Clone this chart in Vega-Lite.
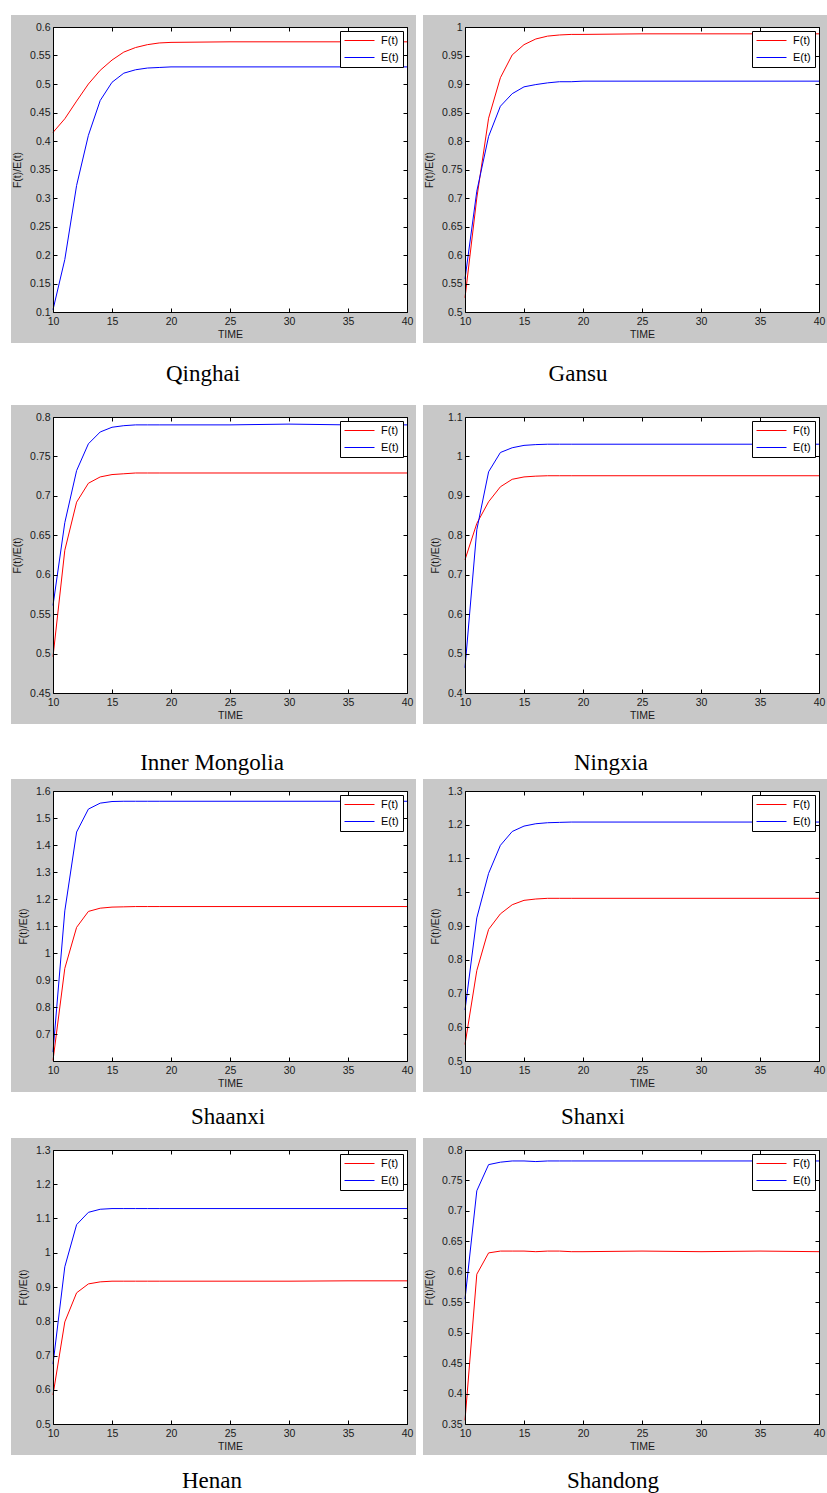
{
"$schema": "https://vega.github.io/schema/vega-lite/v6.json",
"background": "white",
"padding": {"left": 11, "top": 14, "right": 0, "bottom": 0},
"spacing": 18,
"config": {
 "view": {"stroke": null},
 "axis": {"grid": false, "zindex": 1, "domainColor": "#000", "domainWidth": 1, "tickColor": "#000", "tickSize": -4, "tickWidth": 1, "labelFont": "Liberation Sans", "labelFontSize": 10.5, "labelColor": "#1a1a1a", "labelOverlap": false, "titleFont": "Liberation Sans", "titleFontWeight": "normal", "titleColor": "#1a1a1a"},
 "axisX": {"labelPadding": 8, "titleFontSize": 10.5, "titlePadding": 3, "labelFlush": false},
 "axisY": {"labelPadding": 7, "titleFontSize": 10.5, "titlePadding": 7},
 "legend": {"orient": "top-right", "offset": 4, "fillColor": "white", "strokeColor": "#000", "strokeWidth": 1, "padding": 4, "symbolType": "M-3,0L3,0", "symbolSize": 100, "symbolOffset": 10, "symbolStrokeWidth": 1.5, "labelFont": "Liberation Sans", "labelFontSize": 11, "labelColor": "#000", "rowPadding": 5, "labelOffset": 16, "zindex": 2},
 "title": {"font": "Liberation Serif", "fontSize": 23, "fontWeight": "normal", "color": "#000", "orient": "bottom", "anchor": "middle", "baseline": "alphabetic"},
 "line": {"strokeWidth": 1}
},
"resolve": {"scale": {"color": "independent"}, "legend": {"color": "independent"}},
"datasets": {"curves": [
{"panel":"Qinghai","series":"F(t)","t":10,"v":0.415},{"panel":"Qinghai","series":"F(t)","t":11,"v":0.439},{"panel":"Qinghai","series":"F(t)","t":12,"v":0.470},{"panel":"Qinghai","series":"F(t)","t":13,"v":0.500},{"panel":"Qinghai","series":"F(t)","t":14,"v":0.524},{"panel":"Qinghai","series":"F(t)","t":15,"v":0.542},{"panel":"Qinghai","series":"F(t)","t":16,"v":0.556},{"panel":"Qinghai","series":"F(t)","t":17,"v":0.564},{"panel":"Qinghai","series":"F(t)","t":18,"v":0.569},{"panel":"Qinghai","series":"F(t)","t":19,"v":0.572},{"panel":"Qinghai","series":"F(t)","t":20,"v":0.573},{"panel":"Qinghai","series":"F(t)","t":25,"v":0.574},{"panel":"Qinghai","series":"F(t)","t":30,"v":0.574},{"panel":"Qinghai","series":"F(t)","t":35,"v":0.574},{"panel":"Qinghai","series":"F(t)","t":40,"v":0.574},
{"panel":"Qinghai","series":"E(t)","t":10,"v":0.104},{"panel":"Qinghai","series":"E(t)","t":11,"v":0.192},{"panel":"Qinghai","series":"E(t)","t":12,"v":0.322},{"panel":"Qinghai","series":"E(t)","t":13,"v":0.410},{"panel":"Qinghai","series":"E(t)","t":14,"v":0.471},{"panel":"Qinghai","series":"E(t)","t":15,"v":0.503},{"panel":"Qinghai","series":"E(t)","t":16,"v":0.519},{"panel":"Qinghai","series":"E(t)","t":17,"v":0.525},{"panel":"Qinghai","series":"E(t)","t":18,"v":0.528},{"panel":"Qinghai","series":"E(t)","t":19,"v":0.529},{"panel":"Qinghai","series":"E(t)","t":20,"v":0.530},{"panel":"Qinghai","series":"E(t)","t":25,"v":0.530},{"panel":"Qinghai","series":"E(t)","t":30,"v":0.530},{"panel":"Qinghai","series":"E(t)","t":35,"v":0.530},{"panel":"Qinghai","series":"E(t)","t":40,"v":0.530},
{"panel":"Gansu","series":"F(t)","t":10,"v":0.525},{"panel":"Gansu","series":"F(t)","t":11,"v":0.700},{"panel":"Gansu","series":"F(t)","t":12,"v":0.840},{"panel":"Gansu","series":"F(t)","t":13,"v":0.911},{"panel":"Gansu","series":"F(t)","t":14,"v":0.951},{"panel":"Gansu","series":"F(t)","t":15,"v":0.969},{"panel":"Gansu","series":"F(t)","t":16,"v":0.979},{"panel":"Gansu","series":"F(t)","t":17,"v":0.984},{"panel":"Gansu","series":"F(t)","t":18,"v":0.986},{"panel":"Gansu","series":"F(t)","t":19,"v":0.987},{"panel":"Gansu","series":"F(t)","t":20,"v":0.987},{"panel":"Gansu","series":"F(t)","t":25,"v":0.988},{"panel":"Gansu","series":"F(t)","t":30,"v":0.988},{"panel":"Gansu","series":"F(t)","t":35,"v":0.988},{"panel":"Gansu","series":"F(t)","t":40,"v":0.988},
{"panel":"Gansu","series":"E(t)","t":10,"v":0.558},{"panel":"Gansu","series":"E(t)","t":11,"v":0.712},{"panel":"Gansu","series":"E(t)","t":12,"v":0.808},{"panel":"Gansu","series":"E(t)","t":13,"v":0.861},{"panel":"Gansu","series":"E(t)","t":14,"v":0.883},{"panel":"Gansu","series":"E(t)","t":15,"v":0.895},{"panel":"Gansu","series":"E(t)","t":16,"v":0.899},{"panel":"Gansu","series":"E(t)","t":17,"v":0.902},{"panel":"Gansu","series":"E(t)","t":18,"v":0.904},{"panel":"Gansu","series":"E(t)","t":19,"v":0.904},{"panel":"Gansu","series":"E(t)","t":20,"v":0.905},{"panel":"Gansu","series":"E(t)","t":25,"v":0.905},{"panel":"Gansu","series":"E(t)","t":30,"v":0.905},{"panel":"Gansu","series":"E(t)","t":35,"v":0.905},{"panel":"Gansu","series":"E(t)","t":40,"v":0.905},
{"panel":"Inner Mongolia","series":"F(t)","t":10,"v":0.496},{"panel":"Inner Mongolia","series":"F(t)","t":11,"v":0.631},{"panel":"Inner Mongolia","series":"F(t)","t":12,"v":0.692},{"panel":"Inner Mongolia","series":"F(t)","t":13,"v":0.716},{"panel":"Inner Mongolia","series":"F(t)","t":14,"v":0.724},{"panel":"Inner Mongolia","series":"F(t)","t":15,"v":0.727},{"panel":"Inner Mongolia","series":"F(t)","t":16,"v":0.728},{"panel":"Inner Mongolia","series":"F(t)","t":17,"v":0.729},{"panel":"Inner Mongolia","series":"F(t)","t":18,"v":0.729},{"panel":"Inner Mongolia","series":"F(t)","t":19,"v":0.729},{"panel":"Inner Mongolia","series":"F(t)","t":20,"v":0.729},{"panel":"Inner Mongolia","series":"F(t)","t":25,"v":0.729},{"panel":"Inner Mongolia","series":"F(t)","t":30,"v":0.729},{"panel":"Inner Mongolia","series":"F(t)","t":35,"v":0.729},{"panel":"Inner Mongolia","series":"F(t)","t":40,"v":0.729},
{"panel":"Inner Mongolia","series":"E(t)","t":10,"v":0.561},{"panel":"Inner Mongolia","series":"E(t)","t":11,"v":0.666},{"panel":"Inner Mongolia","series":"E(t)","t":12,"v":0.732},{"panel":"Inner Mongolia","series":"E(t)","t":13,"v":0.766},{"panel":"Inner Mongolia","series":"E(t)","t":14,"v":0.781},{"panel":"Inner Mongolia","series":"E(t)","t":15,"v":0.787},{"panel":"Inner Mongolia","series":"E(t)","t":16,"v":0.789},{"panel":"Inner Mongolia","series":"E(t)","t":17,"v":0.790},{"panel":"Inner Mongolia","series":"E(t)","t":18,"v":0.790},{"panel":"Inner Mongolia","series":"E(t)","t":19,"v":0.790},{"panel":"Inner Mongolia","series":"E(t)","t":20,"v":0.790},{"panel":"Inner Mongolia","series":"E(t)","t":25,"v":0.790},{"panel":"Inner Mongolia","series":"E(t)","t":30,"v":0.791},{"panel":"Inner Mongolia","series":"E(t)","t":35,"v":0.790},{"panel":"Inner Mongolia","series":"E(t)","t":40,"v":0.790},
{"panel":"Ningxia","series":"F(t)","t":10,"v":0.738},{"panel":"Ningxia","series":"F(t)","t":11,"v":0.830},{"panel":"Ningxia","series":"F(t)","t":12,"v":0.885},{"panel":"Ningxia","series":"F(t)","t":13,"v":0.923},{"panel":"Ningxia","series":"F(t)","t":14,"v":0.942},{"panel":"Ningxia","series":"F(t)","t":15,"v":0.948},{"panel":"Ningxia","series":"F(t)","t":16,"v":0.950},{"panel":"Ningxia","series":"F(t)","t":17,"v":0.951},{"panel":"Ningxia","series":"F(t)","t":18,"v":0.951},{"panel":"Ningxia","series":"F(t)","t":19,"v":0.951},{"panel":"Ningxia","series":"F(t)","t":20,"v":0.951},{"panel":"Ningxia","series":"F(t)","t":25,"v":0.951},{"panel":"Ningxia","series":"F(t)","t":30,"v":0.951},{"panel":"Ningxia","series":"F(t)","t":35,"v":0.951},{"panel":"Ningxia","series":"F(t)","t":40,"v":0.951},
{"panel":"Ningxia","series":"E(t)","t":10,"v":0.464},{"panel":"Ningxia","series":"E(t)","t":11,"v":0.814},{"panel":"Ningxia","series":"E(t)","t":12,"v":0.961},{"panel":"Ningxia","series":"E(t)","t":13,"v":1.010},{"panel":"Ningxia","series":"E(t)","t":14,"v":1.022},{"panel":"Ningxia","series":"E(t)","t":15,"v":1.028},{"panel":"Ningxia","series":"E(t)","t":16,"v":1.030},{"panel":"Ningxia","series":"E(t)","t":17,"v":1.031},{"panel":"Ningxia","series":"E(t)","t":18,"v":1.031},{"panel":"Ningxia","series":"E(t)","t":19,"v":1.031},{"panel":"Ningxia","series":"E(t)","t":20,"v":1.031},{"panel":"Ningxia","series":"E(t)","t":25,"v":1.031},{"panel":"Ningxia","series":"E(t)","t":30,"v":1.031},{"panel":"Ningxia","series":"E(t)","t":35,"v":1.031},{"panel":"Ningxia","series":"E(t)","t":40,"v":1.031},
{"panel":"Shaanxi","series":"F(t)","t":10,"v":0.602},{"panel":"Shaanxi","series":"F(t)","t":11,"v":0.943},{"panel":"Shaanxi","series":"F(t)","t":12,"v":1.095},{"panel":"Shaanxi","series":"F(t)","t":13,"v":1.154},{"panel":"Shaanxi","series":"F(t)","t":14,"v":1.166},{"panel":"Shaanxi","series":"F(t)","t":15,"v":1.170},{"panel":"Shaanxi","series":"F(t)","t":16,"v":1.171},{"panel":"Shaanxi","series":"F(t)","t":17,"v":1.172},{"panel":"Shaanxi","series":"F(t)","t":18,"v":1.172},{"panel":"Shaanxi","series":"F(t)","t":19,"v":1.172},{"panel":"Shaanxi","series":"F(t)","t":20,"v":1.172},{"panel":"Shaanxi","series":"F(t)","t":25,"v":1.172},{"panel":"Shaanxi","series":"F(t)","t":30,"v":1.172},{"panel":"Shaanxi","series":"F(t)","t":35,"v":1.172},{"panel":"Shaanxi","series":"F(t)","t":40,"v":1.172},
{"panel":"Shaanxi","series":"E(t)","t":10,"v":0.633},{"panel":"Shaanxi","series":"E(t)","t":11,"v":1.156},{"panel":"Shaanxi","series":"E(t)","t":12,"v":1.448},{"panel":"Shaanxi","series":"E(t)","t":13,"v":1.533},{"panel":"Shaanxi","series":"E(t)","t":14,"v":1.555},{"panel":"Shaanxi","series":"E(t)","t":15,"v":1.561},{"panel":"Shaanxi","series":"E(t)","t":16,"v":1.562},{"panel":"Shaanxi","series":"E(t)","t":17,"v":1.562},{"panel":"Shaanxi","series":"E(t)","t":18,"v":1.562},{"panel":"Shaanxi","series":"E(t)","t":19,"v":1.562},{"panel":"Shaanxi","series":"E(t)","t":20,"v":1.562},{"panel":"Shaanxi","series":"E(t)","t":25,"v":1.562},{"panel":"Shaanxi","series":"E(t)","t":30,"v":1.562},{"panel":"Shaanxi","series":"E(t)","t":35,"v":1.562},{"panel":"Shaanxi","series":"E(t)","t":40,"v":1.562},
{"panel":"Shanxi","series":"F(t)","t":10,"v":0.549},{"panel":"Shanxi","series":"F(t)","t":11,"v":0.768},{"panel":"Shanxi","series":"F(t)","t":12,"v":0.890},{"panel":"Shanxi","series":"F(t)","t":13,"v":0.936},{"panel":"Shanxi","series":"F(t)","t":14,"v":0.963},{"panel":"Shanxi","series":"F(t)","t":15,"v":0.976},{"panel":"Shanxi","series":"F(t)","t":16,"v":0.980},{"panel":"Shanxi","series":"F(t)","t":17,"v":0.982},{"panel":"Shanxi","series":"F(t)","t":18,"v":0.982},{"panel":"Shanxi","series":"F(t)","t":19,"v":0.982},{"panel":"Shanxi","series":"F(t)","t":20,"v":0.982},{"panel":"Shanxi","series":"F(t)","t":25,"v":0.982},{"panel":"Shanxi","series":"F(t)","t":30,"v":0.982},{"panel":"Shanxi","series":"F(t)","t":35,"v":0.982},{"panel":"Shanxi","series":"F(t)","t":40,"v":0.982},
{"panel":"Shanxi","series":"E(t)","t":10,"v":0.651},{"panel":"Shanxi","series":"E(t)","t":11,"v":0.924},{"panel":"Shanxi","series":"E(t)","t":12,"v":1.056},{"panel":"Shanxi","series":"E(t)","t":13,"v":1.139},{"panel":"Shanxi","series":"E(t)","t":14,"v":1.180},{"panel":"Shanxi","series":"E(t)","t":15,"v":1.196},{"panel":"Shanxi","series":"E(t)","t":16,"v":1.203},{"panel":"Shanxi","series":"E(t)","t":17,"v":1.206},{"panel":"Shanxi","series":"E(t)","t":18,"v":1.207},{"panel":"Shanxi","series":"E(t)","t":19,"v":1.208},{"panel":"Shanxi","series":"E(t)","t":20,"v":1.208},{"panel":"Shanxi","series":"E(t)","t":25,"v":1.208},{"panel":"Shanxi","series":"E(t)","t":30,"v":1.208},{"panel":"Shanxi","series":"E(t)","t":35,"v":1.208},{"panel":"Shanxi","series":"E(t)","t":40,"v":1.208},
{"panel":"Henan","series":"F(t)","t":10,"v":0.585},{"panel":"Henan","series":"F(t)","t":11,"v":0.798},{"panel":"Henan","series":"F(t)","t":12,"v":0.883},{"panel":"Henan","series":"F(t)","t":13,"v":0.909},{"panel":"Henan","series":"F(t)","t":14,"v":0.915},{"panel":"Henan","series":"F(t)","t":15,"v":0.917},{"panel":"Henan","series":"F(t)","t":16,"v":0.917},{"panel":"Henan","series":"F(t)","t":17,"v":0.917},{"panel":"Henan","series":"F(t)","t":18,"v":0.917},{"panel":"Henan","series":"F(t)","t":19,"v":0.917},{"panel":"Henan","series":"F(t)","t":20,"v":0.917},{"panel":"Henan","series":"F(t)","t":25,"v":0.917},{"panel":"Henan","series":"F(t)","t":30,"v":0.917},{"panel":"Henan","series":"F(t)","t":35,"v":0.918},{"panel":"Henan","series":"F(t)","t":40,"v":0.918},
{"panel":"Henan","series":"E(t)","t":10,"v":0.675},{"panel":"Henan","series":"E(t)","t":11,"v":0.959},{"panel":"Henan","series":"E(t)","t":12,"v":1.082},{"panel":"Henan","series":"E(t)","t":13,"v":1.118},{"panel":"Henan","series":"E(t)","t":14,"v":1.127},{"panel":"Henan","series":"E(t)","t":15,"v":1.129},{"panel":"Henan","series":"E(t)","t":16,"v":1.129},{"panel":"Henan","series":"E(t)","t":17,"v":1.129},{"panel":"Henan","series":"E(t)","t":18,"v":1.129},{"panel":"Henan","series":"E(t)","t":19,"v":1.129},{"panel":"Henan","series":"E(t)","t":20,"v":1.129},{"panel":"Henan","series":"E(t)","t":25,"v":1.129},{"panel":"Henan","series":"E(t)","t":30,"v":1.129},{"panel":"Henan","series":"E(t)","t":35,"v":1.129},{"panel":"Henan","series":"E(t)","t":40,"v":1.129},
{"panel":"Shandong","series":"F(t)","t":10,"v":0.356},{"panel":"Shandong","series":"F(t)","t":11,"v":0.596},{"panel":"Shandong","series":"F(t)","t":12,"v":0.631},{"panel":"Shandong","series":"F(t)","t":13,"v":0.634},{"panel":"Shandong","series":"F(t)","t":14,"v":0.634},{"panel":"Shandong","series":"F(t)","t":15,"v":0.634},{"panel":"Shandong","series":"F(t)","t":16,"v":0.633},{"panel":"Shandong","series":"F(t)","t":17,"v":0.634},{"panel":"Shandong","series":"F(t)","t":18,"v":0.634},{"panel":"Shandong","series":"F(t)","t":19,"v":0.633},{"panel":"Shandong","series":"F(t)","t":20,"v":0.633},{"panel":"Shandong","series":"F(t)","t":25,"v":0.634},{"panel":"Shandong","series":"F(t)","t":30,"v":0.633},{"panel":"Shandong","series":"F(t)","t":35,"v":0.634},{"panel":"Shandong","series":"F(t)","t":40,"v":0.633},
{"panel":"Shandong","series":"E(t)","t":10,"v":0.555},{"panel":"Shandong","series":"E(t)","t":11,"v":0.733},{"panel":"Shandong","series":"E(t)","t":12,"v":0.776},{"panel":"Shandong","series":"E(t)","t":13,"v":0.780},{"panel":"Shandong","series":"E(t)","t":14,"v":0.782},{"panel":"Shandong","series":"E(t)","t":15,"v":0.782},{"panel":"Shandong","series":"E(t)","t":16,"v":0.781},{"panel":"Shandong","series":"E(t)","t":17,"v":0.782},{"panel":"Shandong","series":"E(t)","t":18,"v":0.782},{"panel":"Shandong","series":"E(t)","t":19,"v":0.782},{"panel":"Shandong","series":"E(t)","t":20,"v":0.782},{"panel":"Shandong","series":"E(t)","t":25,"v":0.782},{"panel":"Shandong","series":"E(t)","t":30,"v":0.782},{"panel":"Shandong","series":"E(t)","t":35,"v":0.782},{"panel":"Shandong","series":"E(t)","t":40,"v":0.782}
]},
"vconcat": [
{"hconcat": [
 {"width": 354, "height": 285, "title": {"text": "Qinghai", "offset": 20, "dx": -27},
  "resolve": {"scale": {"x": "independent", "y": "independent"}},
  "layer": [
   {"data": {"values": [{}]}, "mark": {"type": "rect", "color": "#c8c8c8", "clip": false},
    "encoding": {"x": {"datum": -0.11864, "type": "quantitative", "scale": {"domain": [0, 1]}, "axis": null}, "x2": {"datum": 1.02542},
                 "y": {"datum": -0.10877, "type": "quantitative", "scale": {"domain": [0, 1]}, "axis": null}, "y2": {"datum": 1.04211}}},
   {"data": {"values": [{}]}, "mark": {"type": "rect", "color": "white"},
    "encoding": {"x": {"datum": 10, "type": "quantitative", "scale": {"domain": [10, 40], "nice": false, "zero": false}, "axis": {"zindex": 1, "orient": "top", "labels": false, "title": null, "values": [10,15,20,25,30,35,40]}}, "x2": {"datum": 40},
                 "y": {"datum": 0.1, "type": "quantitative", "scale": {"domain": [0.1, 0.6], "nice": false, "zero": false}, "axis": {"zindex": 1, "orient": "right", "labels": false, "title": null, "values": [0.1,0.15,0.2,0.25,0.3,0.35,0.4,0.45,0.5,0.55,0.6]}}, "y2": {"datum": 0.6}}},
   {"data": {"name": "curves"}, "transform": [{"filter": "datum.panel === 'Qinghai'"}], "mark": {"type": "line"},
    "encoding": {"x": {"field": "t", "type": "quantitative", "scale": {"domain": [10, 40], "nice": false, "zero": false}, "axis": {"zindex": 1, "orient": "bottom", "title": "TIME", "values": [10,15,20,25,30,35,40]}},
                 "y": {"field": "v", "type": "quantitative", "scale": {"domain": [0.1, 0.6], "nice": false, "zero": false}, "axis": {"zindex": 1, "orient": "left", "title": "F(t)/E(t)", "format": ".2~f", "values": [0.1,0.15,0.2,0.25,0.3,0.35,0.4,0.45,0.5,0.55,0.6]}},
                 "color": {"field": "series", "type": "nominal", "scale": {"domain": ["F(t)", "E(t)"], "range": ["#ff0000", "#0000ff"]}, "legend": {"title": null}}}}
  ]},
 {"width": 354, "height": 285, "title": {"text": "Gansu", "offset": 20, "dx": -64},
  "resolve": {"scale": {"x": "independent", "y": "independent"}},
  "layer": [
   {"data": {"values": [{}]}, "mark": {"type": "rect", "color": "#c8c8c8", "clip": false},
    "encoding": {"x": {"datum": -0.11864, "type": "quantitative", "scale": {"domain": [0, 1]}, "axis": null}, "x2": {"datum": 1.02542},
                 "y": {"datum": -0.10877, "type": "quantitative", "scale": {"domain": [0, 1]}, "axis": null}, "y2": {"datum": 1.04211}}},
   {"data": {"values": [{}]}, "mark": {"type": "rect", "color": "white"},
    "encoding": {"x": {"datum": 10, "type": "quantitative", "scale": {"domain": [10, 40], "nice": false, "zero": false}, "axis": {"zindex": 1, "orient": "top", "labels": false, "title": null, "values": [10,15,20,25,30,35,40]}}, "x2": {"datum": 40},
                 "y": {"datum": 0.5, "type": "quantitative", "scale": {"domain": [0.5, 1], "nice": false, "zero": false}, "axis": {"zindex": 1, "orient": "right", "labels": false, "title": null, "values": [0.5,0.55,0.6,0.65,0.7,0.75,0.8,0.85,0.9,0.95,1]}}, "y2": {"datum": 1}}},
   {"data": {"name": "curves"}, "transform": [{"filter": "datum.panel === 'Gansu'"}], "mark": {"type": "line"},
    "encoding": {"x": {"field": "t", "type": "quantitative", "scale": {"domain": [10, 40], "nice": false, "zero": false}, "axis": {"zindex": 1, "orient": "bottom", "title": "TIME", "values": [10,15,20,25,30,35,40]}},
                 "y": {"field": "v", "type": "quantitative", "scale": {"domain": [0.5, 1], "nice": false, "zero": false}, "axis": {"zindex": 1, "orient": "left", "title": "F(t)/E(t)", "format": ".2~f", "values": [0.5,0.55,0.6,0.65,0.7,0.75,0.8,0.85,0.9,0.95,1]}},
                 "color": {"field": "series", "type": "nominal", "scale": {"domain": ["F(t)", "E(t)"], "range": ["#ff0000", "#0000ff"]}, "legend": {"title": null}}}}
  ]}
 ], "spacing": 7, "resolve": {"scale": {"color": "independent"}, "legend": {"color": "independent"}}},
{"spacing": 3, "resolve": {"scale": {"color": "independent"}, "legend": {"color": "independent"}}, "vconcat": [
{"hconcat": [
 {"width": 354, "height": 276, "title": {"text": "Inner Mongolia", "offset": 28, "dx": -18},
  "resolve": {"scale": {"x": "independent", "y": "independent"}},
  "layer": [
   {"data": {"values": [{}]}, "mark": {"type": "rect", "color": "#c8c8c8", "clip": false},
    "encoding": {"x": {"datum": -0.11864, "type": "quantitative", "scale": {"domain": [0, 1]}, "axis": null}, "x2": {"datum": 1.02542},
                 "y": {"datum": -0.11232, "type": "quantitative", "scale": {"domain": [0, 1]}, "axis": null}, "y2": {"datum": 1.04348}}},
   {"data": {"values": [{}]}, "mark": {"type": "rect", "color": "white"},
    "encoding": {"x": {"datum": 10, "type": "quantitative", "scale": {"domain": [10, 40], "nice": false, "zero": false}, "axis": {"zindex": 1, "orient": "top", "labels": false, "title": null, "values": [10,15,20,25,30,35,40]}}, "x2": {"datum": 40},
                 "y": {"datum": 0.45, "type": "quantitative", "scale": {"domain": [0.45, 0.8], "nice": false, "zero": false}, "axis": {"zindex": 1, "orient": "right", "labels": false, "title": null, "values": [0.45,0.5,0.55,0.6,0.65,0.7,0.75,0.8]}}, "y2": {"datum": 0.8}}},
   {"data": {"name": "curves"}, "transform": [{"filter": "datum.panel === 'Inner Mongolia'"}], "mark": {"type": "line"},
    "encoding": {"x": {"field": "t", "type": "quantitative", "scale": {"domain": [10, 40], "nice": false, "zero": false}, "axis": {"zindex": 1, "orient": "bottom", "title": "TIME", "values": [10,15,20,25,30,35,40]}},
                 "y": {"field": "v", "type": "quantitative", "scale": {"domain": [0.45, 0.8], "nice": false, "zero": false}, "axis": {"zindex": 1, "orient": "left", "title": "F(t)/E(t)", "format": ".2~f", "values": [0.45,0.5,0.55,0.6,0.65,0.7,0.75,0.8]}},
                 "color": {"field": "series", "type": "nominal", "scale": {"domain": ["F(t)", "E(t)"], "range": ["#ff0000", "#0000ff"]}, "legend": {"title": null}}}}
  ]},
 {"width": 354, "height": 276, "title": {"text": "Ningxia", "offset": 28, "dx": -31},
  "resolve": {"scale": {"x": "independent", "y": "independent"}},
  "layer": [
   {"data": {"values": [{}]}, "mark": {"type": "rect", "color": "#c8c8c8", "clip": false},
    "encoding": {"x": {"datum": -0.11864, "type": "quantitative", "scale": {"domain": [0, 1]}, "axis": null}, "x2": {"datum": 1.02542},
                 "y": {"datum": -0.11232, "type": "quantitative", "scale": {"domain": [0, 1]}, "axis": null}, "y2": {"datum": 1.04348}}},
   {"data": {"values": [{}]}, "mark": {"type": "rect", "color": "white"},
    "encoding": {"x": {"datum": 10, "type": "quantitative", "scale": {"domain": [10, 40], "nice": false, "zero": false}, "axis": {"zindex": 1, "orient": "top", "labels": false, "title": null, "values": [10,15,20,25,30,35,40]}}, "x2": {"datum": 40},
                 "y": {"datum": 0.4, "type": "quantitative", "scale": {"domain": [0.4, 1.1], "nice": false, "zero": false}, "axis": {"zindex": 1, "orient": "right", "labels": false, "title": null, "values": [0.4,0.5,0.6,0.7,0.8,0.9,1,1.1]}}, "y2": {"datum": 1.1}}},
   {"data": {"name": "curves"}, "transform": [{"filter": "datum.panel === 'Ningxia'"}], "mark": {"type": "line"},
    "encoding": {"x": {"field": "t", "type": "quantitative", "scale": {"domain": [10, 40], "nice": false, "zero": false}, "axis": {"zindex": 1, "orient": "bottom", "title": "TIME", "values": [10,15,20,25,30,35,40]}},
                 "y": {"field": "v", "type": "quantitative", "scale": {"domain": [0.4, 1.1], "nice": false, "zero": false}, "axis": {"zindex": 1, "orient": "left", "title": "F(t)/E(t)", "format": ".2~f", "values": [0.4,0.5,0.6,0.7,0.8,0.9,1,1.1]}},
                 "color": {"field": "series", "type": "nominal", "scale": {"domain": ["F(t)", "E(t)"], "range": ["#ff0000", "#0000ff"]}, "legend": {"title": null}}}}
  ]}
 ], "spacing": 7, "resolve": {"scale": {"color": "independent"}, "legend": {"color": "independent"}}},
{"spacing": 8, "resolve": {"scale": {"color": "independent"}, "legend": {"color": "independent"}}, "vconcat": [
{"hconcat": [
 {"width": 354, "height": 270, "title": {"text": "Shaanxi", "offset": 14, "dx": -2},
  "resolve": {"scale": {"x": "independent", "y": "independent"}},
  "layer": [
   {"data": {"values": [{}]}, "mark": {"type": "rect", "color": "#c8c8c8", "clip": false},
    "encoding": {"x": {"datum": -0.11864, "type": "quantitative", "scale": {"domain": [0, 1]}, "axis": null}, "x2": {"datum": 1.02542},
                 "y": {"datum": -0.11481, "type": "quantitative", "scale": {"domain": [0, 1]}, "axis": null}, "y2": {"datum": 1.04444}}},
   {"data": {"values": [{}]}, "mark": {"type": "rect", "color": "white"},
    "encoding": {"x": {"datum": 10, "type": "quantitative", "scale": {"domain": [10, 40], "nice": false, "zero": false}, "axis": {"zindex": 1, "orient": "top", "labels": false, "title": null, "values": [10,15,20,25,30,35,40]}}, "x2": {"datum": 40},
                 "y": {"datum": 0.6, "type": "quantitative", "scale": {"domain": [0.6, 1.6], "nice": false, "zero": false}, "axis": {"zindex": 1, "orient": "right", "labels": false, "title": null, "values": [0.7,0.8,0.9,1,1.1,1.2,1.3,1.4,1.5,1.6]}}, "y2": {"datum": 1.6}}},
   {"data": {"name": "curves"}, "transform": [{"filter": "datum.panel === 'Shaanxi'"}], "mark": {"type": "line"},
    "encoding": {"x": {"field": "t", "type": "quantitative", "scale": {"domain": [10, 40], "nice": false, "zero": false}, "axis": {"zindex": 1, "orient": "bottom", "title": "TIME", "values": [10,15,20,25,30,35,40]}},
                 "y": {"field": "v", "type": "quantitative", "scale": {"domain": [0.6, 1.6], "nice": false, "zero": false}, "axis": {"zindex": 1, "orient": "left", "title": "F(t)/E(t)", "format": ".2~f", "values": [0.7,0.8,0.9,1,1.1,1.2,1.3,1.4,1.5,1.6]}},
                 "color": {"field": "series", "type": "nominal", "scale": {"domain": ["F(t)", "E(t)"], "range": ["#ff0000", "#0000ff"]}, "legend": {"title": null}}}}
  ]},
 {"width": 354, "height": 270, "title": {"text": "Shanxi", "offset": 14, "dx": -49},
  "resolve": {"scale": {"x": "independent", "y": "independent"}},
  "layer": [
   {"data": {"values": [{}]}, "mark": {"type": "rect", "color": "#c8c8c8", "clip": false},
    "encoding": {"x": {"datum": -0.11864, "type": "quantitative", "scale": {"domain": [0, 1]}, "axis": null}, "x2": {"datum": 1.02542},
                 "y": {"datum": -0.11481, "type": "quantitative", "scale": {"domain": [0, 1]}, "axis": null}, "y2": {"datum": 1.04444}}},
   {"data": {"values": [{}]}, "mark": {"type": "rect", "color": "white"},
    "encoding": {"x": {"datum": 10, "type": "quantitative", "scale": {"domain": [10, 40], "nice": false, "zero": false}, "axis": {"zindex": 1, "orient": "top", "labels": false, "title": null, "values": [10,15,20,25,30,35,40]}}, "x2": {"datum": 40},
                 "y": {"datum": 0.5, "type": "quantitative", "scale": {"domain": [0.5, 1.3], "nice": false, "zero": false}, "axis": {"zindex": 1, "orient": "right", "labels": false, "title": null, "values": [0.5,0.6,0.7,0.8,0.9,1,1.1,1.2,1.3]}}, "y2": {"datum": 1.3}}},
   {"data": {"name": "curves"}, "transform": [{"filter": "datum.panel === 'Shanxi'"}], "mark": {"type": "line"},
    "encoding": {"x": {"field": "t", "type": "quantitative", "scale": {"domain": [10, 40], "nice": false, "zero": false}, "axis": {"zindex": 1, "orient": "bottom", "title": "TIME", "values": [10,15,20,25,30,35,40]}},
                 "y": {"field": "v", "type": "quantitative", "scale": {"domain": [0.5, 1.3], "nice": false, "zero": false}, "axis": {"zindex": 1, "orient": "left", "title": "F(t)/E(t)", "format": ".2~f", "values": [0.5,0.6,0.7,0.8,0.9,1,1.1,1.2,1.3]}},
                 "color": {"field": "series", "type": "nominal", "scale": {"domain": ["F(t)", "E(t)"], "range": ["#ff0000", "#0000ff"]}, "legend": {"title": null}}}}
  ]}
 ], "spacing": 7, "resolve": {"scale": {"color": "independent"}, "legend": {"color": "independent"}}},
{"hconcat": [
 {"width": 354, "height": 274, "title": {"text": "Henan", "offset": 15, "dx": -18},
  "resolve": {"scale": {"x": "independent", "y": "independent"}},
  "layer": [
   {"data": {"values": [{}]}, "mark": {"type": "rect", "color": "#c8c8c8", "clip": false},
    "encoding": {"x": {"datum": -0.11864, "type": "quantitative", "scale": {"domain": [0, 1]}, "axis": null}, "x2": {"datum": 1.02542},
                 "y": {"datum": -0.11314, "type": "quantitative", "scale": {"domain": [0, 1]}, "axis": null}, "y2": {"datum": 1.0438}}},
   {"data": {"values": [{}]}, "mark": {"type": "rect", "color": "white"},
    "encoding": {"x": {"datum": 10, "type": "quantitative", "scale": {"domain": [10, 40], "nice": false, "zero": false}, "axis": {"zindex": 1, "orient": "top", "labels": false, "title": null, "values": [10,15,20,25,30,35,40]}}, "x2": {"datum": 40},
                 "y": {"datum": 0.5, "type": "quantitative", "scale": {"domain": [0.5, 1.3], "nice": false, "zero": false}, "axis": {"zindex": 1, "orient": "right", "labels": false, "title": null, "values": [0.5,0.6,0.7,0.8,0.9,1,1.1,1.2,1.3]}}, "y2": {"datum": 1.3}}},
   {"data": {"name": "curves"}, "transform": [{"filter": "datum.panel === 'Henan'"}], "mark": {"type": "line"},
    "encoding": {"x": {"field": "t", "type": "quantitative", "scale": {"domain": [10, 40], "nice": false, "zero": false}, "axis": {"zindex": 1, "orient": "bottom", "title": "TIME", "values": [10,15,20,25,30,35,40]}},
                 "y": {"field": "v", "type": "quantitative", "scale": {"domain": [0.5, 1.3], "nice": false, "zero": false}, "axis": {"zindex": 1, "orient": "left", "title": "F(t)/E(t)", "format": ".2~f", "values": [0.5,0.6,0.7,0.8,0.9,1,1.1,1.2,1.3]}},
                 "color": {"field": "series", "type": "nominal", "scale": {"domain": ["F(t)", "E(t)"], "range": ["#ff0000", "#0000ff"]}, "legend": {"title": null}}}}
  ]},
 {"width": 354, "height": 274, "title": {"text": "Shandong", "offset": 15, "dx": -29},
  "resolve": {"scale": {"x": "independent", "y": "independent"}},
  "layer": [
   {"data": {"values": [{}]}, "mark": {"type": "rect", "color": "#c8c8c8", "clip": false},
    "encoding": {"x": {"datum": -0.11864, "type": "quantitative", "scale": {"domain": [0, 1]}, "axis": null}, "x2": {"datum": 1.02542},
                 "y": {"datum": -0.11314, "type": "quantitative", "scale": {"domain": [0, 1]}, "axis": null}, "y2": {"datum": 1.0438}}},
   {"data": {"values": [{}]}, "mark": {"type": "rect", "color": "white"},
    "encoding": {"x": {"datum": 10, "type": "quantitative", "scale": {"domain": [10, 40], "nice": false, "zero": false}, "axis": {"zindex": 1, "orient": "top", "labels": false, "title": null, "values": [10,15,20,25,30,35,40]}}, "x2": {"datum": 40},
                 "y": {"datum": 0.35, "type": "quantitative", "scale": {"domain": [0.35, 0.8], "nice": false, "zero": false}, "axis": {"zindex": 1, "orient": "right", "labels": false, "title": null, "values": [0.35,0.4,0.45,0.5,0.55,0.6,0.65,0.7,0.75,0.8]}}, "y2": {"datum": 0.8}}},
   {"data": {"name": "curves"}, "transform": [{"filter": "datum.panel === 'Shandong'"}], "mark": {"type": "line"},
    "encoding": {"x": {"field": "t", "type": "quantitative", "scale": {"domain": [10, 40], "nice": false, "zero": false}, "axis": {"zindex": 1, "orient": "bottom", "title": "TIME", "values": [10,15,20,25,30,35,40]}},
                 "y": {"field": "v", "type": "quantitative", "scale": {"domain": [0.35, 0.8], "nice": false, "zero": false}, "axis": {"zindex": 1, "orient": "left", "title": "F(t)/E(t)", "format": ".2~f", "values": [0.35,0.4,0.45,0.5,0.55,0.6,0.65,0.7,0.75,0.8]}},
                 "color": {"field": "series", "type": "nominal", "scale": {"domain": ["F(t)", "E(t)"], "range": ["#ff0000", "#0000ff"]}, "legend": {"title": null}}}}
  ]}
 ], "spacing": 7, "resolve": {"scale": {"color": "independent"}, "legend": {"color": "independent"}}}
]}
]}
]
}
